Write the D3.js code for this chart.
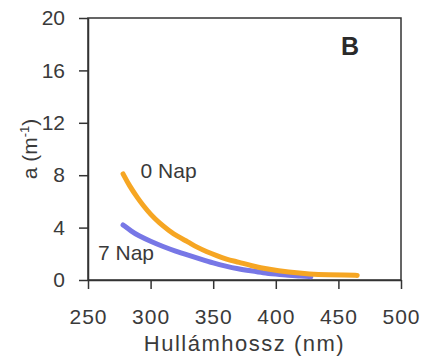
<!DOCTYPE html>
<html>
<head>
<meta charset="utf-8">
<script src="https://cdn.jsdelivr.net/npm/d3@7"></script>
<style>
  body { margin: 0; background: #fff; }
  svg { font-family: "Liberation Sans", Arial, sans-serif; }
  .tick text { fill: #3a3a3a; }
</style>
</head>
<body>
<svg id="chart"></svg>
<script>
// wavelength (nm) and absorption (1/m)
const wave0 = [278, 283, 290, 294, 300, 307, 315, 321, 330, 337, 345, 353, 360, 371, 380, 395, 410, 427, 443, 455, 465];
const abs0  = [8.1, 7.2, 6.2, 5.7, 5.0, 4.35, 3.75, 3.35, 2.9, 2.5, 2.15, 1.85, 1.6, 1.35, 1.1, 0.8, 0.6, 0.45, 0.4, 0.38, 0.35];

const wave7 = [278, 285, 290, 300, 310, 320, 330, 340, 350, 360, 370, 380, 390, 400, 410, 420, 428];
const abs7  = [4.2, 3.7, 3.4, 2.95, 2.55, 2.2, 1.9, 1.6, 1.3, 1.05, 0.85, 0.7, 0.55, 0.45, 0.35, 0.3, 0.25];

const xTicks = [250, 300, 350, 400, 450, 500];
const yTicks = [0, 4, 8, 12, 16, 20];

const seriesNames = ['0 Nap', '7 Nap'];
const colors = ['#f6a623', '#7777e6'];

const W = 431, H = 358;
const margin = {top: 18, right: 30, bottom: 78, left: 88};
const width = W - margin.left - margin.right;
const height = H - margin.top - margin.bottom;

const svg = d3.select('#chart').attr('width', W).attr('height', H);
const chart = svg.append('g').attr('transform', `translate(${margin.left}, ${margin.top})`);

const x = d3.scaleLinear().domain([250, 500]).range([0, width]);
const y = d3.scaleLinear().domain([0, 20]).range([height, 0]);

/* frame */
chart.append('rect')
  .attr('width', width).attr('height', height)
  .attr('fill', 'none').attr('stroke', '#333').attr('stroke-width', 1.5);

/* axes */
const xAxis = chart.append('g')
  .attr('transform', `translate(0, ${height})`)
  .call(d3.axisBottom(x).tickValues(xTicks).tickSize(9).tickSizeOuter(0).tickPadding(20));
const yAxis = chart.append('g')
  .call(d3.axisLeft(y).tickValues(yTicks).tickSize(9).tickSizeOuter(0).tickPadding(14));

[xAxis, yAxis].forEach(a => {
  a.select('.domain').attr('stroke', '#333').attr('stroke-width', 1.5);
  a.selectAll('.tick line').attr('stroke', '#333').attr('stroke-width', 1.5);
  a.selectAll('.tick text').style('font-size', '21px').attr('font-family', '"Liberation Sans", Arial, sans-serif');
});
xAxis.selectAll('.tick text').style('letter-spacing', '1px');

/* lines */
const line = d3.line()
  .x(d => x(d[0]))
  .y(d => y(d[1]))
  .curve(d3.curveBasis);

const series = [d3.zip(wave0, abs0), d3.zip(wave7, abs7)];

chart.append('path')
  .datum(series[1])
  .attr('d', line)
  .attr('fill', 'none').attr('stroke', colors[1])
  .attr('stroke-width', 5).attr('stroke-linecap', 'round');

chart.append('path')
  .datum(series[0])
  .attr('d', line)
  .attr('fill', 'none').attr('stroke', colors[0])
  .attr('stroke-width', 5).attr('stroke-linecap', 'round');

/* series labels */
chart.append('text')
  .attr('x', x(292)).attr('y', y(7.8))
  .attr('fill', '#3a3a3a').style('font-size', '21px')
  .text(seriesNames[0]);

chart.append('text')
  .attr('x', x(258)).attr('y', y(1.5))
  .attr('fill', '#3a3a3a').style('font-size', '21px')
  .text(seriesNames[1]);

/* panel letter */
chart.append('text')
  .attr('x', x(452)).attr('y', y(17.2))
  .attr('fill', '#2a2a2a').style('font-size', '25px').style('font-weight', 'bold')
  .text('B');

/* axis titles */
svg.append('text')
  .attr('x', margin.left + width / 2).attr('y', 351)
  .attr('text-anchor', 'middle')
  .attr('fill', '#3a3a3a').style('font-size', '22px').style('letter-spacing', '1.5px')
  .text('Hullámhossz (nm)');

const yTitle = svg.append('text')
  .attr('transform', `translate(37, ${margin.top + height / 2}) rotate(-90)`)
  .attr('text-anchor', 'middle')
  .attr('fill', '#3a3a3a').style('font-size', '21px');
yTitle.append('tspan').text('a  (m');
yTitle.append('tspan').attr('dy', -8).style('font-size', '13px').text('-1');
yTitle.append('tspan').attr('dy', 8).text(')');
</script>
</body>
</html>
